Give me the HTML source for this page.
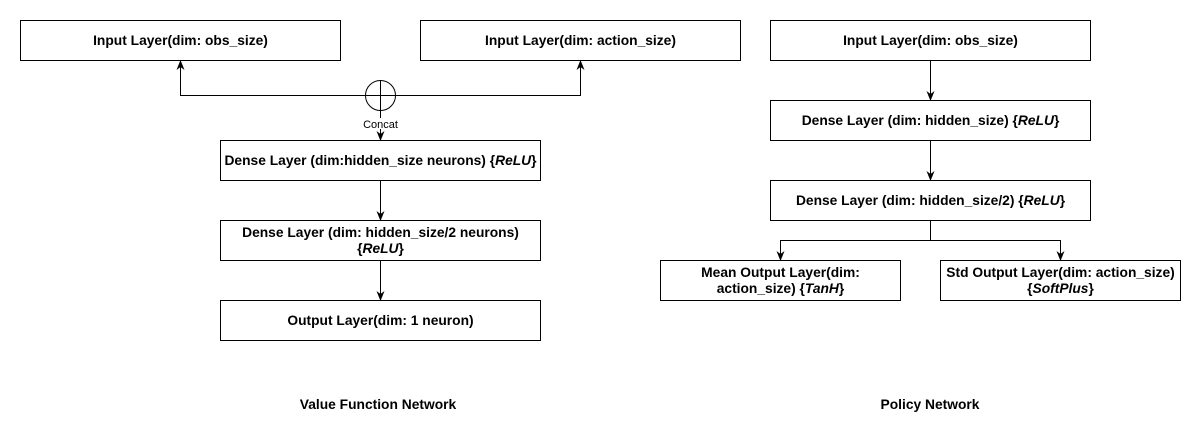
<!DOCTYPE html>
<html><head><meta charset="utf-8"><style>
body{margin:0;background:#fff;}
svg text{font-family:"Liberation Sans",Arial,sans-serif;font-size:13.8px;font-weight:bold;fill:#000;}
</style></head><body>
<svg width="1201" height="441" viewBox="0 0 1201 441" xmlns="http://www.w3.org/2000/svg">
<defs><marker id="a" viewBox="0 0 10 10" refX="9" refY="5" markerWidth="10" markerHeight="10" markerUnits="userSpaceOnUse" orient="auto-start-reverse"><path d="M0,1 L10,5 L0,9 L3,5 z" fill="#000"/></marker></defs>
<g fill="#fff" stroke="#000" stroke-width="1">
<rect x="20.5" y="20.5" width="320" height="40"/>
<rect x="420.5" y="20.5" width="320" height="40"/>
<rect x="220.5" y="140.5" width="320" height="40"/>
<rect x="220.5" y="220.5" width="320" height="40"/>
<rect x="220.5" y="300.5" width="320" height="40"/>
<rect x="770.5" y="20.5" width="320" height="40"/>
<rect x="770.5" y="100.5" width="320" height="40"/>
<rect x="770.5" y="180.5" width="320" height="40"/>
<rect x="660.5" y="260.5" width="240" height="40"/>
<rect x="940.5" y="260.5" width="240" height="40"/>
</g>
<g fill="none" stroke="#000" stroke-width="1">
<path d="M380.5,95.5 H180.5 V61" marker-end="url(#a)"/>
<path d="M380.5,95.5 H580.5 V61" marker-end="url(#a)"/>
<circle cx="380.5" cy="95.5" r="15"/>
<path d="M380.5,80 V111"/>
<path d="M380.5,110 V140" marker-end="url(#a)"/>
<path d="M380.5,181 V220" marker-end="url(#a)"/>
<path d="M380.5,261 V300" marker-end="url(#a)"/>
<path d="M930.5,61 V100" marker-end="url(#a)"/>
<path d="M930.5,141 V180" marker-end="url(#a)"/>
<path d="M930.5,221 V240.5 H780.5 V260" marker-end="url(#a)"/>
<path d="M930.5,240.5 H1060.5 V260" marker-end="url(#a)"/>
</g>
<rect x="360" y="118" width="41" height="11" fill="#fff"/>
<text x="380.5" y="128" text-anchor="middle" style="font-weight:normal;font-size:11px">Concat</text>
<g text-anchor="middle">
<text x="180.5" y="45">Input Layer(dim: obs_size)</text>
<text x="580.5" y="45">Input Layer(dim: action_size)</text>
<text x="380.5" y="165">Dense Layer (dim:hidden_size neurons) {<tspan font-style="italic">ReLU</tspan>}</text>
<text x="380.5" y="237">Dense Layer (dim: hidden_size/2 neurons)</text>
<text x="380.5" y="253">{<tspan font-style="italic">ReLU</tspan>}</text>
<text x="380.5" y="325">Output Layer(dim: 1 neuron)</text>
<text x="930.5" y="45">Input Layer(dim: obs_size)</text>
<text x="930.5" y="125">Dense Layer (dim: hidden_size) {<tspan font-style="italic">ReLU</tspan>}</text>
<text x="930.5" y="205">Dense Layer (dim: hidden_size/2) {<tspan font-style="italic">ReLU</tspan>}</text>
<text x="780.5" y="277">Mean Output Layer(dim:</text>
<text x="780.5" y="293">action_size) {<tspan font-style="italic">TanH</tspan>}</text>
<text x="1060.5" y="277">Std Output Layer(dim: action_size)</text>
<text x="1060.5" y="293">{<tspan font-style="italic">SoftPlus</tspan>}</text>
<text x="378" y="409">Value Function Network</text>
<text x="930" y="409">Policy Network</text>
</g>
</svg>
</body></html>
